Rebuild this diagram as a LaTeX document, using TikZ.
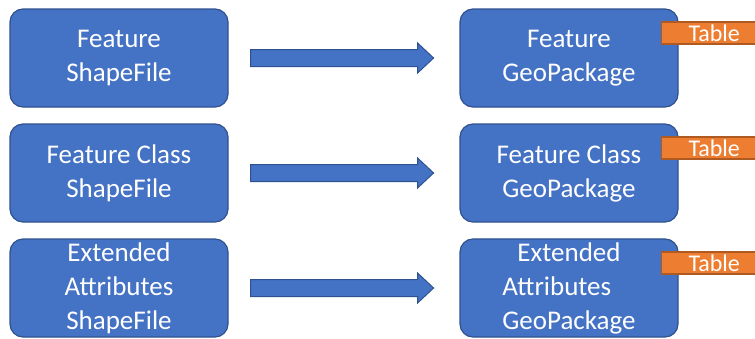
\documentclass[tikz,border=0pt]{standalone}
\usepackage{fontspec}
\setmainfont{Carlito}
\usepackage{tikz}
\usetikzlibrary{calc}

\definecolor{boxblue}{HTML}{4472C4}
\definecolor{boxedge}{HTML}{2F528F}
\definecolor{taborange}{HTML}{ED7D31}
\definecolor{tabedge}{HTML}{AE5A21}

\begin{document}
\begin{tikzpicture}[x=1pt,y=-1pt,
  fmt/.style={draw=boxedge,line width=1.2pt,fill=boxblue,rounded corners=13pt,
    minimum width=218pt,minimum height=98pt,text=white,align=center,
    font=\fontsize{27}{34}\selectfont},
  tbl/.style={draw=tabedge,line width=1.2pt,fill=taborange,minimum width=106pt,
    minimum height=22pt,inner sep=0pt,text=white,font=\fontsize{24}{24}\selectfont},
  barrow/.style={draw=boxedge,line width=1pt,fill=boxblue}]
\useasboundingbox (0,0) rectangle (755,338);

\node[fmt] (shp1) at (119,58) {Feature\\ShapeFile};
\node[fmt] (shp2) at (119,173) {Feature Class\\ShapeFile};
\node[fmt] (shp3) at (119,288) {Extended\\Attributes\\ShapeFile};

\node[fmt] (gpkg1) at (569,58) {Feature\\GeoPackage};
\node[fmt] (gpkg2) at (569,173) {Feature Class\\GeoPackage};
\node[fmt,align=left] (gpkg3) at (569,288) {\hspace{15pt}Extended\\Attributes\\GeoPackage};

\foreach \r in {1,2,3} {
  \node[tbl,anchor=north west] (tab\r) at ($(gpkg\r.north east)+(-18,13)$) {Table};
  \draw[barrow] ($(shp\r.east)+(22,-8.5)$) -- ++(167,0) -- ++(0,-6.5)
    -- ($(shp\r.east)+(205,0)$) -- ($(shp\r.east)+(189,15)$) -- ++(0,-6.5)
    -- ++(-167,0) -- cycle;
}
\end{tikzpicture}
\end{document}
